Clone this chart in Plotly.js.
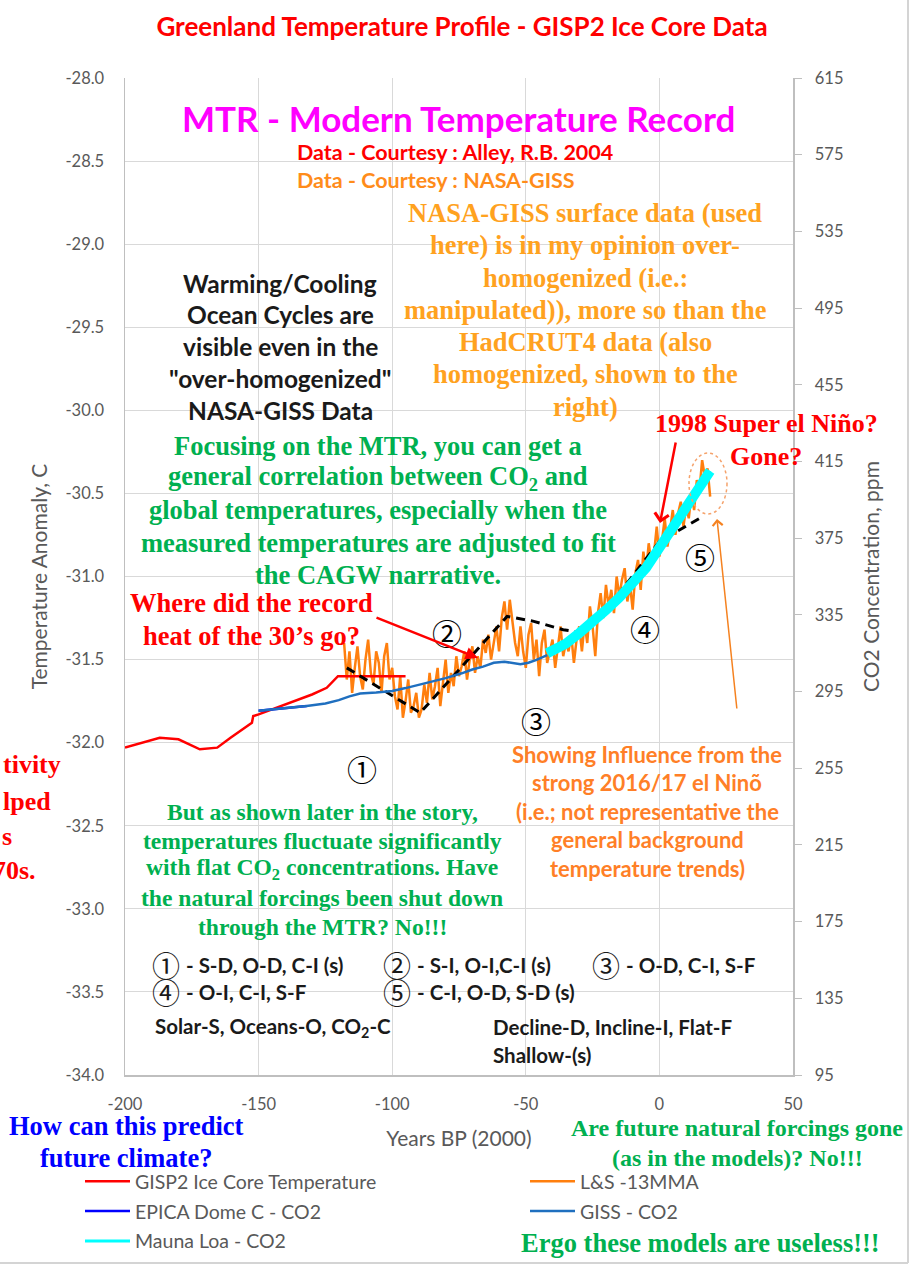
<!DOCTYPE html>
<html>
<head>
<meta charset="utf-8">
<script src="https://cdn.plot.ly/plotly-3.0.1.min.js"></script>
<style>html,body{margin:0;padding:0;background:#fff;}#chart{width:910px;height:1265px;}</style>
</head>
<body>
<div id="chart"></div>
<script>
// ---------------- DATA ----------------
const gispYears = [-200,-187,-180,-172,-165.5,-160.5,-152.5,-152,-150,-140,-130,-124.5,-120.3,-95];
const gispTemp  = [-32.03,-31.97,-31.98,-32.04,-32.03,-31.97,-31.88,-31.84,-31.83,-31.77,-31.71,-31.67,-31.60,-31.60];

const lsYears = [-118,-117,-116,-115,-114,-113,-112,-111,-110,-109,-108,-107,-106,-105,-104,-103,-102,-101,-100,
 -99,-98,-97,-96,-95,-94,-93,-92,-91,-90,-89,-88,-87,-86,-85,-84,-83,-82,-81,-80,
 -79,-78,-77,-76,-75,-74,-73,-72,-71,-70,-69,-68,-67,-66,-65,-64,-63,-62,-61,-60,
 -59,-58,-57,-56,-55,-54,-53,-52,-51,-50,-49,-48,-47,-46,-45,-44,-43,-42,-41,-40,
 -39,-38,-37,-36,-35,-34,-33,-32,-31,-30,-29,-28,-27,-26,-25,-24,-23,-22,-21,-20,
 -19,-18,-17,-16,-15,-14,-13,-12,-11,-10,-9,-8,-7,-6,-5,-4,-3,-2,-1,0,
 1,2,3,4,5,6,7,8,9,10,11,12,13,14,15,16,17,18,19];
const lsTemp = [-31.40,-31.62,-31.45,-31.70,-31.55,-31.42,-31.60,-31.68,-31.50,-31.38,-31.58,-31.65,-31.45,-31.52,-31.70,-31.48,-31.40,-31.62,-31.55,
 -31.72,-31.80,-31.60,-31.85,-31.75,-31.62,-31.82,-31.78,-31.70,-31.85,-31.80,-31.65,-31.76,-31.58,-31.74,-31.66,-31.55,-31.78,-31.62,-31.50,
 -31.70,-31.58,-31.66,-31.48,-31.60,-31.54,-31.45,-31.62,-31.50,-31.42,-31.58,-31.48,-31.55,-31.38,-31.46,-31.35,-31.50,-31.40,-31.30,-31.45,
 -31.25,-31.15,-31.32,-31.14,-31.28,-31.40,-31.48,-31.30,-31.45,-31.55,-31.35,-31.28,-31.50,-31.38,-31.60,-31.40,-31.32,-31.52,-31.45,-31.38,
 -31.55,-31.42,-31.30,-31.48,-31.40,-31.45,-31.35,-31.52,-31.38,-31.30,-31.45,-31.28,-31.40,-31.18,-31.30,-31.48,-31.22,-31.10,-31.25,-31.05,
 -31.18,-31.08,-31.22,-31.00,-31.12,-31.02,-30.95,-31.15,-31.05,-31.20,-30.98,-30.90,-31.08,-30.85,-30.98,-30.80,-30.92,-30.86,-30.70,-30.88,
 -30.78,-30.65,-30.82,-30.72,-30.60,-30.75,-30.62,-30.55,-30.70,-30.58,-30.65,-30.50,-30.60,-30.42,-30.48,-30.30,-30.40,-30.35,-30.52];

const epicaYears = [-150,-140,-132];
const epicaCO2   = [285,286.3,287.5];

const gissYears = [-150,-140,-132,-125,-120,-116,-112,-106,-100,-95,-90,-85,-80,-74,-70,-66,-62,-58,-55,-52,-49,-46,-42];
const gissCO2   = [285,286.3,287.5,288.8,290.5,292.5,294,294.5,295.3,296.8,298.5,300.3,302,304.5,306.5,308,310,310.5,310,309.3,310,311.5,314];

const maunaYears = [-42,-35,-30,-25,-20,-15,-10,-5,0,5,10,15,19];
const maunaCO2   = [315,320,325.5,331,337.5,344,352,359.5,370,380,390,400.5,410];

const trendYears = [-117,-89.5,-57,-47,-36,-28,-15,0,15];
const trendTemp  = [-31.55,-31.82,-31.24,-31.27,-31.32,-31.34,-31.10,-30.79,-30.65];

const xTickVals  = [-200,-150,-100,-50,0,50];
const xTickText  = ['-200','-150','-100','-50','0','50'];
const yTickVals  = [-34,-33.5,-33,-32.5,-32,-31.5,-31,-30.5,-30,-29.5,-29,-28.5,-28];
const yTickText  = ['-34.0','-33.5','-33.0','-32.5','-32.0','-31.5','-31.0','-30.5','-30.0','-29.5','-29.0','-28.5','-28.0'];
const y2TickVals = [95,135,175,215,255,295,335,375,415,455,495,535,575,615];
const y2TickText = ['95','135','175','215','255','295','335','375','415','455','495','535','575','615'];

// ---------------- STYLE ----------------
const SERIF = '"Liberation Serif", "Times New Roman", serif';
const SANS  = 'Lato, "Noto Sans CJK JP", sans-serif';
const CIRC  = '"Noto Sans CJK JP", "DejaVu Sans", sans-serif';
const GREEN = '#00B050';
const GRAY  = '#595959';

// plot area in pixels: x 125..793, y 78..1075
const L = 125, R = 793, T = 78, B = 1075;
const PX = p => (p - L) / (R - L);
const PY = p => (B - p) / (B - T);

const ann = [];
function txt(s, x, y, size, color, family, xanchor) {
  ann.push({text: s, x: PX(x), y: PY(y), xref: 'paper', yref: 'paper', showarrow: false,
    xanchor: xanchor || 'center', yanchor: 'middle',
    font: {size: size, color: color, family: family}});
}
function block(linesArr, x, y0, dy, size, color, family, xanchor) {
  linesArr.forEach((s, i) => txt('<b>' + s + '</b>', x, y0 + i * dy, size, color, family, xanchor));
}
function arrow(hx, hy, tx, ty, color, width, head, size) {
  ann.push({text: '', x: PX(hx), y: PY(hy), xref: 'paper', yref: 'paper', showarrow: true,
    ax: tx - hx, ay: ty - hy, arrowcolor: color, arrowwidth: width, arrowhead: head,
    arrowsize: size || 1, standoff: 0, startstandoff: 0});
}

block(['MTR - Modern Temperature Record'], 458, 118, 0, 35, '#FF00FF', SANS);
block(['Data - Courtesy : Alley, R.B. 2004'], 295, 152, 0, 21.5, '#FF0000', SANS, 'left');
block(['Data - Courtesy : NASA-GISS'], 295, 180, 0, 21.5, '#FF8C1A', SANS, 'left');

block(['NASA-GISS surface data (used','here) is in my opinion over-','homogenized (i.e.:',
       'manipulated)), more so than the','HadCRUT4 data (also','homogenized, shown to the','right)'],
      585, 213, 32.3, 26.5, '#FFA21F', SERIF);

block(['Warming/Cooling','Ocean Cycles are','visible even in the','"over-homogenized"','NASA-GISS Data'],
      280, 283, 31.8, 24.5, '#1a1a1a', SANS);

block(['Focusing on the MTR, you can get a','general correlation between CO<sub>2</sub> and',
       'global temperatures, especially when the','measured temperatures are adjusted to fit','the CAGW narrative.'],
      378, 446, 32.2, 26.5, GREEN, SERIF);

block(['Where did the record','heat of the 30’s go?'], 251, 603, 33, 26.5, '#FF0000', SERIF);
block(['1998 Super el Niño?','Gone?'], 766, 424, 32, 26, '#FF0000', SERIF);

block(['Showing Influence from the','strong 2016/17 el Ninõ','(i.e.; not representative the',
       'general background','temperature trends)'], 647, 754, 28.5, 22, '#FF7F27', SANS);

block(['But as shown later in the story,','temperatures fluctuate significantly',
       'with flat CO<sub>2</sub> concentrations. Have','the natural forcings been shut down','through the MTR? No!!!'],
      322, 812, 28.7, 23.6, GREEN, SERIF);

// circled markers in the plot
txt('①', 362, 768, 30, '#000', CIRC);
txt('②', 447, 632, 30, '#000', CIRC);
txt('③', 536, 720, 30, '#000', CIRC);
txt('④', 645, 628, 30, '#000', CIRC);
txt('⑤', 700, 556, 30, '#000', CIRC);

// key
const keyFont = 20.5;
const keyCirc = 28;
const KC = '#1a1a1a';
txt('①', 166, 965, keyCirc, KC, CIRC);
txt('<b>- S-D, O-D, C-I (s)</b>', 184, 965, keyFont, KC, SANS, 'left');
txt('②', 397, 965, keyCirc, KC, CIRC);
txt('<b>- S-I, O-I,C-I (s)</b>', 415, 965, keyFont, KC, SANS, 'left');
txt('③', 606, 965, keyCirc, KC, CIRC);
txt('<b>- O-D, C-I, S-F</b>', 624, 965, keyFont, KC, SANS, 'left');
txt('④', 166, 992, keyCirc, KC, CIRC);
txt('<b>- O-I, C-I, S-F</b>', 184, 992, keyFont, KC, SANS, 'left');
txt('⑤', 397, 992, keyCirc, KC, CIRC);
txt('<b>- C-I, O-D, S-D (s)</b>', 415, 992, keyFont, KC, SANS, 'left');
txt('<b>Solar-S, Oceans-O, CO<sub>2</sub>-C</b>', 153, 1027, keyFont, KC, SANS, 'left');
txt('<b>Decline-D, Incline-I, Flat-F</b>', 491, 1027, keyFont, KC, SANS, 'left');
txt('<b>Shallow-(s)</b>', 491, 1055, keyFont, KC, SANS, 'left');

// clipped red text on left edge
txt('<b>tivity</b>', 1, 764, 26, '#FF0000', SERIF, 'left');
txt('<b>lped</b>', 1, 801, 26, '#FF0000', SERIF, 'left');
txt('<b>s</b>', 0, 836, 26, '#FF0000', SERIF, 'left');
txt('<b>70s.</b>', 38, 870, 26, '#FF0000', SERIF, 'right');

block(['How can this predict','future climate?'], 126, 1126, 32, 26.5, '#0000FF', SERIF);
block(['Are future natural forcings gone','(as in the models)? No!!!'], 737, 1128, 30, 24, GREEN, SERIF);
block(['Ergo these models are useless!!!'], 700, 1243, 0, 26.5, GREEN, SERIF);

// arrows
arrow(478, 658, 375, 617, '#FF0000', 2.5, 2, 1);
arrow(660, 523, 676, 441, '#FF0000', 2.5, 4, 1.1);
arrow(717, 519, 737, 710, '#F58220', 1.5, 4, 1.3);

const shapes = [
  {type: 'circle', xref: 'paper', yref: 'paper', x0: PX(689), x1: PX(727), y0: PY(514), y1: PY(453),
   line: {color: '#F5A26B', width: 1.5, dash: 'dot'}},
  {type: 'line', xref: 'paper', yref: 'paper', x0: PX(908), x1: PX(908), y0: PY(0), y1: PY(1263),
   line: {color: '#D4D4D4', width: 2}},
  {type: 'line', xref: 'paper', yref: 'paper', x0: PX(0), x1: PX(908), y0: PY(1263), y1: PY(1263),
   line: {color: '#D4D4D4', width: 2}}
];

const traces = [
  {x: lsYears, y: lsTemp, name: 'L&S -13MMA', type: 'scatter', mode: 'lines', yaxis: 'y',
   line: {color: '#FF7F0E', width: 2.5}, legend: 'legend2', legendgroup: 'b1', legendrank: 1},
  {x: gispYears, y: gispTemp, name: 'GISP2 Ice Core Temperature', type: 'scatter', mode: 'lines', yaxis: 'y',
   line: {color: '#FF0000', width: 2.5}, legend: 'legend', legendgroup: 'a1', legendrank: 1},
  {x: epicaYears, y: epicaCO2, name: 'EPICA Dome C - CO2', type: 'scatter', mode: 'lines', yaxis: 'y2',
   line: {color: '#0000FF', width: 2.5}, legend: 'legend', legendgroup: 'a2', legendrank: 2},
  {x: gissYears, y: gissCO2, name: 'GISS - CO2', type: 'scatter', mode: 'lines', yaxis: 'y2',
   line: {color: '#1F6FBF', width: 2.5}, legend: 'legend2', legendgroup: 'b2', legendrank: 2},
  {x: maunaYears, y: maunaCO2, name: 'Mauna Loa - CO2', type: 'scatter', mode: 'lines', yaxis: 'y2',
   line: {color: '#00FFFF', width: 3}, legend: 'legend', legendgroup: 'a3', legendrank: 3},
  {x: maunaYears, y: maunaCO2, name: 'Mauna Loa - CO2 (band)', type: 'scatter', mode: 'lines', yaxis: 'y2',
   line: {color: '#00FFFF', width: 10}, showlegend: false},
  {x: trendYears, y: trendTemp, name: 'trend', type: 'scatter', mode: 'lines', yaxis: 'y',
   line: {color: '#000000', width: 3, dash: '9px,6px'}, showlegend: false}
];

const axFont = {family: SANS, size: 16.5, color: GRAY};
const titleFont = {family: SANS, size: 21, color: GRAY};
const layout = {
  width: 910, height: 1265,
  margin: {l: L, r: 910 - R, t: T, b: 1265 - B, autoexpand: false},
  paper_bgcolor: '#ffffff', plot_bgcolor: '#ffffff',
  showlegend: true,
  title: {text: '<b>Greenland Temperature Profile - GISP2 Ice Core Data</b>',
    font: {family: SANS, size: 26, color: '#FF0000'}, x: 462 / 910, xref: 'container',
    y: 1 - 27 / 1265, yref: 'container', xanchor: 'center', yanchor: 'middle'},
  xaxis: {range: [-200, 50], tickvals: xTickVals, ticktext: xTickText, showgrid: true, gridcolor: '#D9D9D9',
    showline: true, linecolor: '#BFBFBF', linewidth: 1.5, zeroline: false, ticks: '', tickfont: axFont,
    ticklabelstandoff: 14,
    title: {text: 'Years BP (2000)', font: titleFont, standoff: 18}},
  yaxis: {range: [-34, -28], tickvals: yTickVals, ticktext: yTickText, showgrid: true, gridcolor: '#D9D9D9',
    showline: true, linecolor: '#BFBFBF', linewidth: 1.5, zeroline: false, ticks: '', tickfont: axFont,
    ticklabelstandoff: 16,
    title: {text: 'Temperature Anomaly, C', font: titleFont, standoff: 12}},
  yaxis2: {range: [95, 615], tickvals: y2TickVals, ticktext: y2TickText, overlaying: 'y', side: 'right',
    showgrid: false, showline: true, linecolor: '#BFBFBF', linewidth: 1.5, zeroline: false,
    ticks: 'outside', ticklen: 7, tickcolor: '#BFBFBF', tickfont: axFont, ticklabelstandoff: 10,
    title: {text: 'CO2 Concentration, ppm', font: titleFont, standoff: 22}},
  legend: {x: PX(80), y: PY(1162), xanchor: 'left', yanchor: 'top', orientation: 'v', itemwidth: 45,
    bgcolor: 'rgba(0,0,0,0)', font: {family: SANS, size: 19.5, color: GRAY}, tracegroupgap: 1.5},
  legend2: {x: PX(525), y: PY(1162), xanchor: 'left', yanchor: 'top', orientation: 'v', itemwidth: 45,
    bgcolor: 'rgba(0,0,0,0)', font: {family: SANS, size: 19.5, color: GRAY}, tracegroupgap: 1.5},
  annotations: ann,
  shapes: shapes
};

Plotly.newPlot('chart', traces, layout, {staticPlot: true, displayModeBar: false});
</script>
</body>
</html>
